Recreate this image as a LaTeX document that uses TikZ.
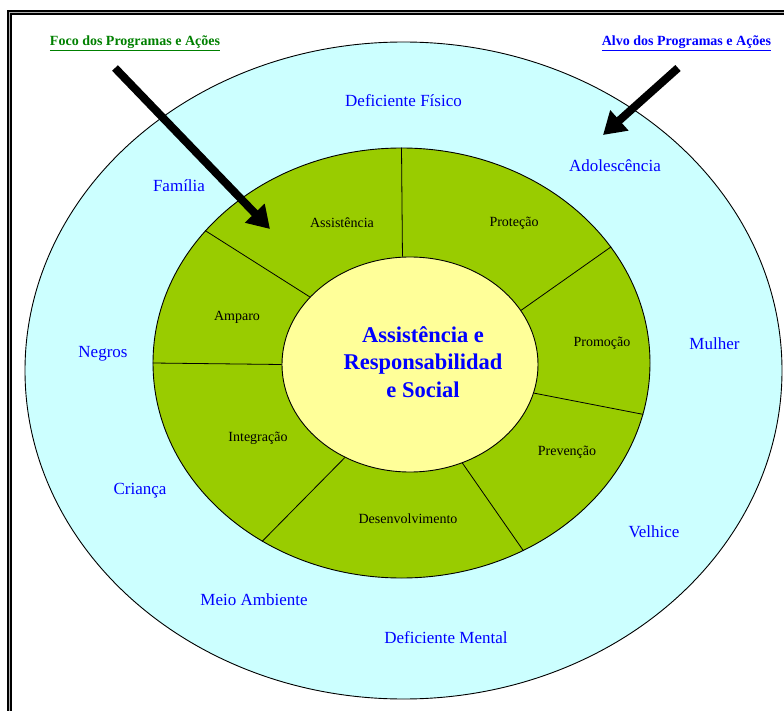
\documentclass[tikz,border=0pt]{standalone}
\usepackage{fontspec}
\setmainfont{Liberation Serif}
\usetikzlibrary{shapes.geometric,arrows.meta}

\definecolor{ciano}{HTML}{CCFFFF}
\definecolor{verdeanel}{HTML}{99CC00}
\definecolor{amarelo}{HTML}{FFFF99}
\definecolor{azul}{HTML}{0000FF}
\definecolor{verdeescuro}{HTML}{008000}

\begin{document}
\begin{tikzpicture}[x=1pt,y=-1pt]
	\tikzstyle{elipse}=[draw,ellipse,inner sep=0pt,line width=0.9pt]
	\tikzstyle{grupo}=[text=azul,font=\fontsize{17}{20}\selectfont]
	\tikzstyle{eixo}=[font=\fontsize{14}{16}\selectfont]
	\tikzstyle{titulo}=[font=\bfseries\fontsize{14}{16}\selectfont]
	\tikzstyle{seta}=[line width=8pt,-{Triangle[length=22pt,width=26pt]}]
	
	\useasboundingbox (0,0) rectangle (784,711);
	\clip (0,0) rectangle (784,711);
	
	% moldura
	\draw[line width=2pt,double=gray!60,double distance=1.5pt] (9.5,740) |- (800,12.5);
	
	\node[elipse,fill=ciano,minimum width=757pt,minimum height=657pt] (alvo) at (403.5,370.5) {};
	\node[elipse,fill=verdeanel,minimum width=497pt,minimum height=430pt] (anel) at (401.5,363) {};
	\node[elipse,fill=amarelo,minimum width=256pt,minimum height=215pt] (nucleo) at (410,364.5) {};
	
	% divisoes do anel
	\draw[line width=0.8pt] (anel.90) -- (nucleo.94);
	\draw[line width=0.8pt] (anel.146) -- (nucleo.146.5);
	\draw[line width=0.8pt] (anel.180) -- (nucleo.180);
	\draw[line width=0.8pt] (anel.232.7) -- (nucleo.235.2);
	\draw[line width=0.8pt] (anel.303.4) -- (nucleo.298.5);
	\draw[line width=0.8pt] (anel.348) -- (nucleo.347.6);
	\draw[line width=0.8pt] (anel.29.3) -- (nucleo.26);
	
	\node[align=center,text=azul,font=\bfseries\fontsize{22.5}{27.5}\selectfont] (centro) at (423,362) {Assistência e\\Responsabilidad\\e Social};
	
	\node[eixo] (assist) at (342,223) {Assistência};
	\node[eixo] (protec) at (514,223) {Proteção};
	\node[eixo] (amparo) at (237,317) {Amparo};
	\node[eixo] (promoc) at (602,343) {Promoção};
	\node[eixo] (integr) at (258,438) {Integração};
	\node[eixo] (preven) at (567,452) {Prevenção};
	\node[eixo] (desenv) at (408,519) {Desenvolvimento};
	
	\node[grupo] (fisico) at (403.5,101) {Deficiente Físico};
	\node[grupo] (adolesc) at (615,166) {Adolescência};
	\node[grupo] (familia) at (179,186) {Família};
	\node[grupo] (negros) at (103,354) {Negros};
	\node[grupo] (mulher) at (714.5,344) {Mulher};
	\node[grupo] (crianca) at (140,491) {Criança};
	\node[grupo] (velhice) at (654,532) {Velhice};
	\node[grupo] (meio) at (254,600) {Meio Ambiente};
	\node[grupo] (mental) at (446,638) {Deficiente Mental};
	
	\node[titulo,text=verdeescuro] (foco) at (135,43) {\underline{Foco dos Programas e Ações}};
	\node[titulo,text=azul] (alvotit) at (686.5,43) {\underline{Alvo dos Programas e Ações}};
	
	\coordinate (focoini) at (115,68);
	\coordinate (focoponta) at (270,229);
	\coordinate (alvoini) at (678,68);
	\coordinate (alvoponta) at (603,135);
	\draw[seta] (focoini) -- (focoponta);
	\draw[seta] (alvoini) -- (alvoponta);
	
\end{tikzpicture}
\end{document}
